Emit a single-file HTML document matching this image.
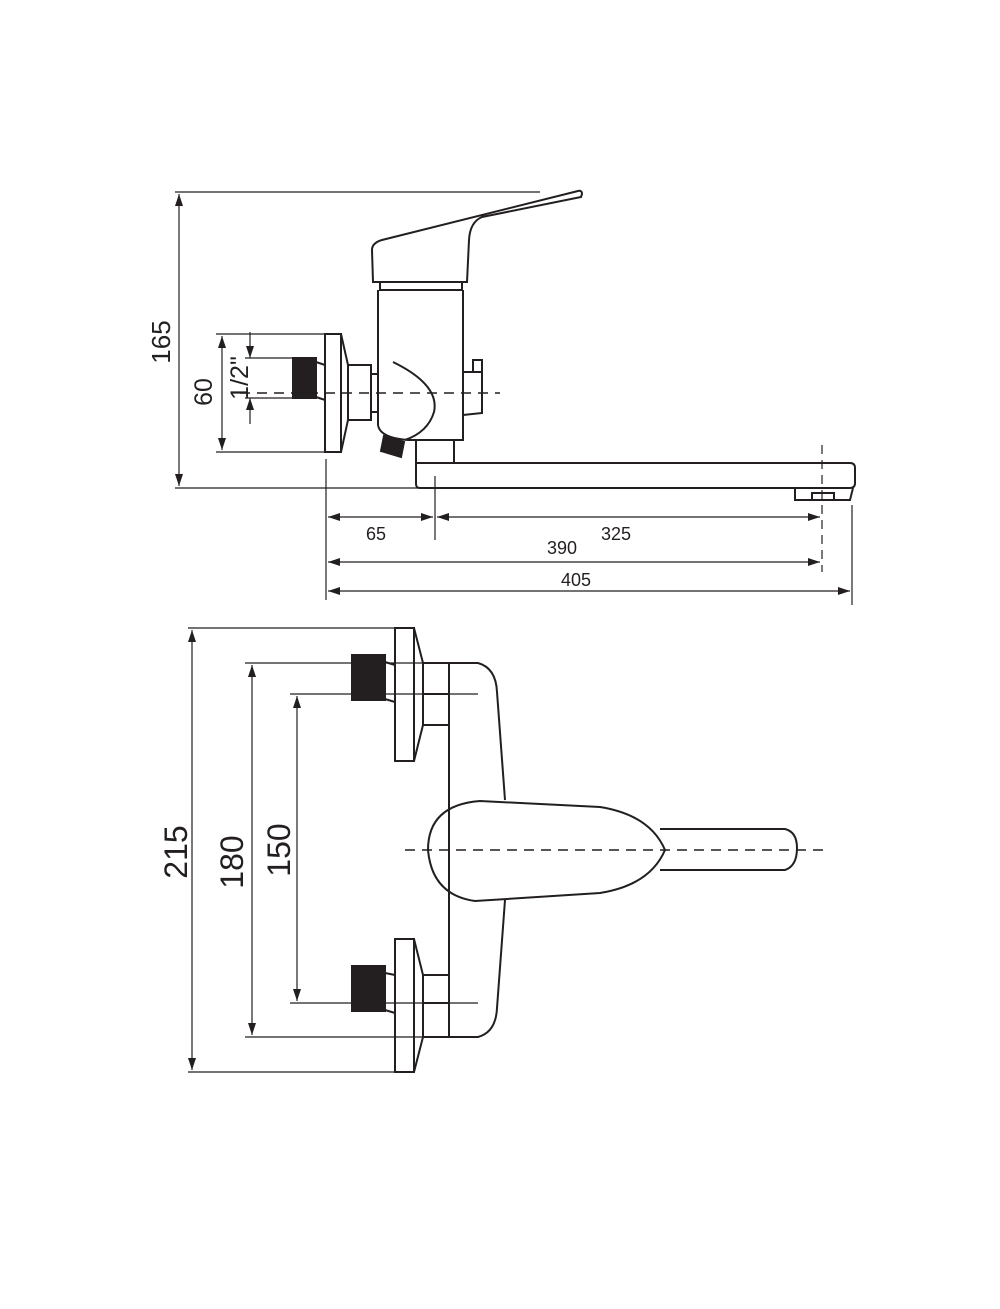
<!DOCTYPE html>
<html><head><meta charset="utf-8"><style>
html,body{margin:0;padding:0;background:#fff;}
svg{display:block;}
text{font-family:"Liberation Sans",sans-serif;fill:#231f20;}
</style></head><body>
<svg width="1000" height="1309" viewBox="0 0 1000 1309" xmlns="http://www.w3.org/2000/svg">
<defs>
<marker id="a" viewBox="0 0 12 8" refX="12" refY="4" markerWidth="12" markerHeight="8" orient="auto-start-reverse" markerUnits="userSpaceOnUse"><path d="M0,0 L12,4 L0,8 z" fill="#231f20"/></marker>
</defs>
<g stroke="#231f20" fill="none" stroke-width="1.2">
<line x1="175" y1="192" x2="540" y2="192"/>
<line x1="175" y1="488" x2="420" y2="488"/>
<line x1="179" y1="194" x2="179" y2="486" marker-start="url(#a)" marker-end="url(#a)"/>
<line x1="216" y1="334" x2="326" y2="334"/>
<line x1="216" y1="452" x2="326" y2="452"/>
<line x1="222" y1="336" x2="222" y2="450" marker-start="url(#a)" marker-end="url(#a)"/>
<line x1="245" y1="358" x2="293" y2="358"/>
<line x1="245" y1="398" x2="293" y2="398"/>
<line x1="250" y1="332" x2="250" y2="358" marker-end="url(#a)"/>
<line x1="250" y1="424" x2="250" y2="398" marker-end="url(#a)"/>
<line x1="326" y1="459" x2="326" y2="600"/>
<line x1="435" y1="476" x2="435" y2="540"/>
<line x1="852" y1="505" x2="852" y2="605"/>
<line x1="822" y1="445" x2="822" y2="572" stroke-dasharray="9,6"/>
<line x1="328" y1="517" x2="433" y2="517" marker-start="url(#a)" marker-end="url(#a)"/>
<line x1="437" y1="517" x2="820" y2="517" marker-start="url(#a)" marker-end="url(#a)"/>
<line x1="328" y1="562" x2="820" y2="562" marker-start="url(#a)" marker-end="url(#a)"/>
<line x1="328" y1="591" x2="850" y2="591" marker-start="url(#a)" marker-end="url(#a)"/>
</g>
<g stroke="#231f20" fill="none" stroke-width="2">
<path d="M373,282 L372,250 Q372,243 382,240 L578,191 Q582,190 582,194 L581,197 L482,217 Q470,222 469,240 L467,282 Z"/>
<rect x="380" y="282" width="82" height="8"/>
<path d="M378,290 L378,425 Q380,438 408,440 L463,440 L463,290"/>
<path d="M393,362 Q440,385 434,412 Q428,432 405,440"/>
<polygon points="384,436 404,442 401,457 381,451" fill="#231f20"/>
<path d="M463,372 L473,372 L473,360 L482,360 L482,413 L463,415"/>
<line x1="473" y1="372" x2="482" y2="372"/>
<rect x="325" y="334" width="16" height="118"/>
<polygon points="341,334 348,365 348,420 341,452"/>
<rect x="348" y="365" width="23" height="55"/>
<rect x="371" y="374" width="7" height="38"/>
<rect x="293" y="358" width="23" height="40" fill="#231f20"/>
<polygon points="316,362 325,365 325,400 316,397"/>
<rect x="416" y="440" width="38" height="23"/>
<path d="M416,463 L416,484 Q416,488 420,488 L850,488 Q855,488 855,483 L855,468 Q855,463 850,463 L454,463"/>
<path d="M795,488 L795,500 L850,500 L853,488"/>
<rect x="812" y="493" width="22" height="7"/>
</g>
<line x1="240" y1="393" x2="500" y2="393" stroke="#231f20" stroke-width="1.5" stroke-dasharray="10,7"/>
<text x="0" y="0" font-size="26" transform="translate(170,342) rotate(-90)" text-anchor="middle">165</text>
<text x="0" y="0" font-size="25" transform="translate(212,392) rotate(-90)" text-anchor="middle">60</text>
<text x="0" y="0" font-size="25" transform="translate(248,378) rotate(-90)" text-anchor="middle">1/2"</text>
<text x="376" y="540" font-size="18" text-anchor="middle">65</text>
<text x="616" y="540" font-size="18" text-anchor="middle">325</text>
<text x="562" y="554" font-size="18" text-anchor="middle">390</text>
<text x="576" y="586" font-size="18" text-anchor="middle">405</text>

<g stroke="#231f20" fill="none" stroke-width="1.2">
<line x1="188" y1="628" x2="396" y2="628"/>
<line x1="188" y1="1072" x2="396" y2="1072"/>
<line x1="192" y1="630" x2="192" y2="1070" marker-start="url(#a)" marker-end="url(#a)"/>
<line x1="245" y1="663" x2="423" y2="663"/>
<line x1="245" y1="1037" x2="452" y2="1037"/>
<line x1="252" y1="665" x2="252" y2="1035" marker-start="url(#a)" marker-end="url(#a)"/>
<line x1="290" y1="694" x2="478" y2="694"/>
<line x1="290" y1="1003" x2="478" y2="1003"/>
<line x1="297" y1="696" x2="297" y2="1001" marker-start="url(#a)" marker-end="url(#a)"/>
</g>
<g stroke="#231f20" fill="none" stroke-width="2">
<rect x="395" y="628" width="19" height="133"/>
<polygon points="414,628 423,663 423,725 414,761"/>
<rect x="423" y="663" width="26" height="62"/>
<line x1="423" y1="694" x2="449" y2="694"/>
<rect x="352" y="655" width="33" height="45" fill="#231f20"/>
<polygon points="385,662 395,665 395,702 385,699"/>
<rect x="395" y="939" width="19" height="133"/>
<polygon points="414,939 423,975 423,1037 414,1072"/>
<rect x="423" y="975" width="26" height="62"/>
<line x1="423" y1="1003" x2="449" y2="1003"/>
<rect x="352" y="966" width="33" height="45" fill="#231f20"/>
<polygon points="385,973 395,975 395,1013 385,1010"/>
<path d="M449,663 L449,1037"/>
<path d="M449,663 L478,663 Q496,668 497,692 L505,800"/>
<path d="M449,1037 L478,1037 Q496,1032 497,1008 L505,900"/>
<path d="M480,801 Q428,805 428,850 Q432,895 475,901 L600,893 Q650,885 665,850 Q650,815 600,807 Z"/>
<path d="M660,829 L785,829 Q797,832 797,848 Q797,866 785,870 L660,870"/>
</g>
<line x1="405" y1="850" x2="825" y2="850" stroke="#231f20" stroke-width="1.5" stroke-dasharray="10,7"/>
<text x="0" y="0" font-size="32" transform="translate(187,852) rotate(-90)" text-anchor="middle">215</text>
<text x="0" y="0" font-size="32" transform="translate(243,862) rotate(-90)" text-anchor="middle">180</text>
<text x="0" y="0" font-size="32" transform="translate(290,850) rotate(-90)" text-anchor="middle">150</text>
</svg>
</body></html>
